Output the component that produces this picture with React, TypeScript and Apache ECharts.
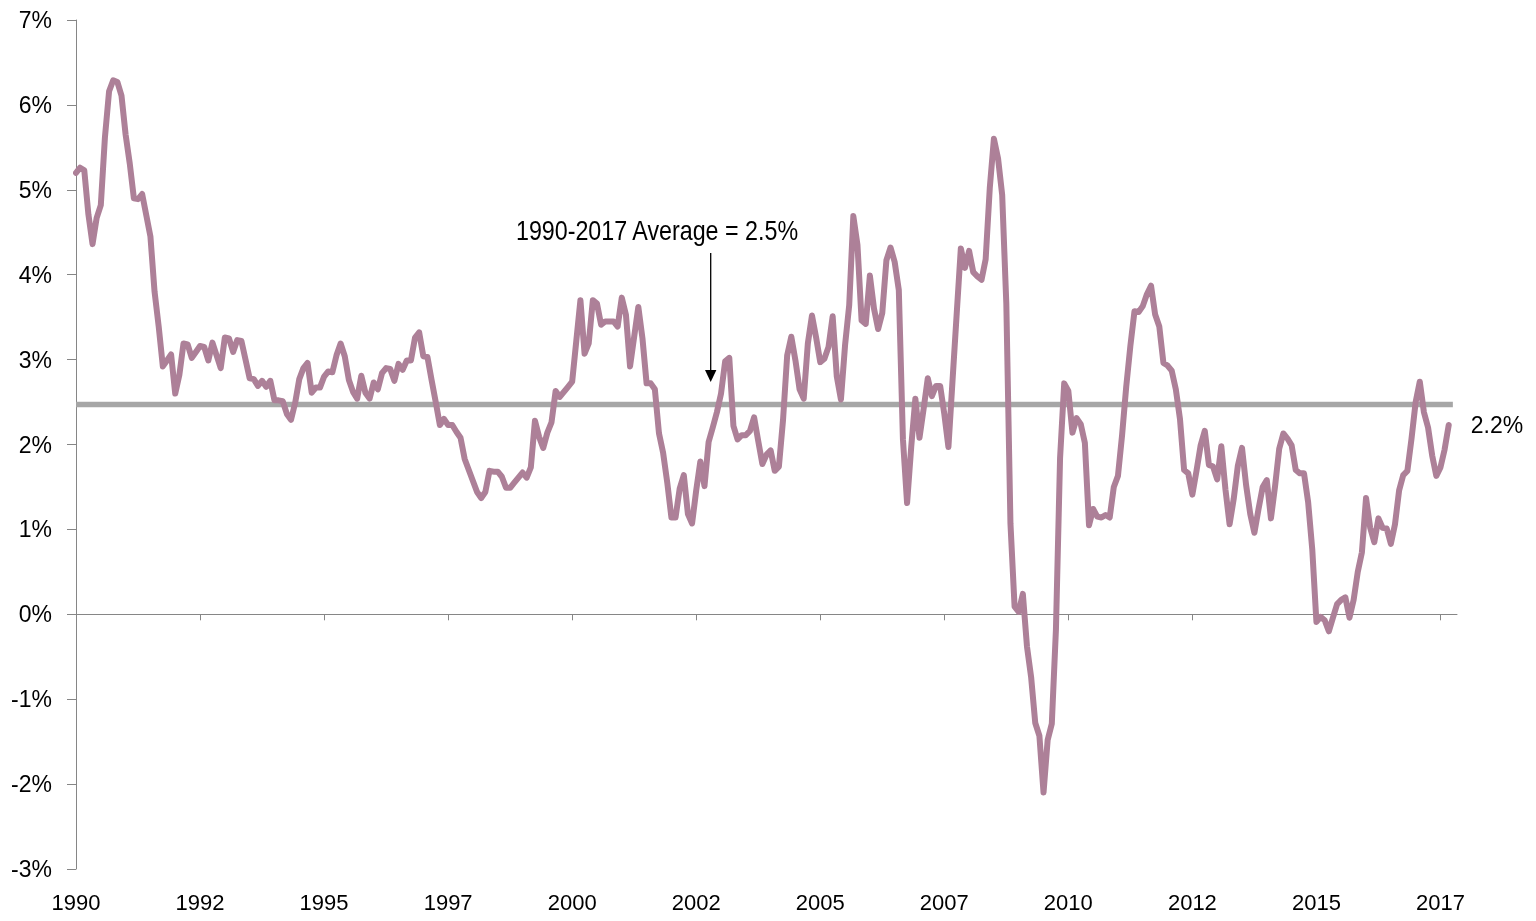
import React, { useEffect, useRef } from "react";
import * as echarts from "echarts";

// CPI year-over-year inflation, monthly, Jan 1990 – Sep 2017 (%)
const cpi1990 = [5.2, 5.26, 5.23, 4.71, 4.36, 4.67, 4.82, 5.62, 6.16, 6.29, 6.27, 6.11];
const cpi1991 = [5.65, 5.31, 4.9, 4.89, 4.95, 4.7, 4.45, 3.8, 3.39, 2.92, 2.99, 3.06];
const cpi1992 = [2.6, 2.82, 3.19, 3.18, 3.02, 3.09, 3.16, 3.15, 2.99, 3.2, 3.05, 2.9];
const cpi1993 = [3.26, 3.25, 3.09, 3.23, 3.22, 3.0, 2.78, 2.77, 2.69, 2.75, 2.68, 2.75];
const cpi1994 = [2.52, 2.52, 2.51, 2.36, 2.29, 2.49, 2.77, 2.9, 2.96, 2.61, 2.67, 2.67];
const cpi1995 = [2.8, 2.86, 2.85, 3.05, 3.19, 3.04, 2.76, 2.62, 2.54, 2.81, 2.61, 2.54];
const cpi1996 = [2.73, 2.65, 2.84, 2.9, 2.89, 2.75, 2.95, 2.88, 2.99, 2.99, 3.26, 3.32];
const cpi1997 = [3.04, 3.03, 2.76, 2.5, 2.23, 2.3, 2.23, 2.23, 2.15, 2.08, 1.83, 1.7];
const cpi1998 = [1.57, 1.44, 1.37, 1.44, 1.69, 1.68, 1.68, 1.62, 1.49, 1.49, 1.55, 1.61];
const cpi1999 = [1.67, 1.61, 1.73, 2.28, 2.09, 1.96, 2.14, 2.26, 2.63, 2.56, 2.62, 2.68];
const cpi2000 = [2.74, 3.22, 3.7, 3.07, 3.19, 3.7, 3.66, 3.41, 3.45, 3.45, 3.45, 3.39];
const cpi2001 = [3.73, 3.53, 2.92, 3.27, 3.62, 3.25, 2.72, 2.72, 2.65, 2.13, 1.9, 1.55];
const cpi2002 = [1.14, 1.14, 1.48, 1.64, 1.18, 1.07, 1.46, 1.8, 1.51, 2.03, 2.2, 2.38];
const cpi2003 = [2.6, 2.98, 3.02, 2.22, 2.06, 2.11, 2.11, 2.16, 2.32, 2.04, 1.77, 1.88];
const cpi2004 = [1.93, 1.69, 1.74, 2.29, 3.05, 3.27, 2.99, 2.65, 2.54, 3.19, 3.52, 3.26];
const cpi2005 = [2.97, 3.01, 3.15, 3.51, 2.8, 2.53, 3.17, 3.64, 4.69, 4.35, 3.46, 3.42];
const cpi2006 = [3.99, 3.6, 3.36, 3.55, 4.17, 4.32, 4.15, 3.82, 2.06, 1.31, 1.97, 2.54];
const cpi2007 = [2.08, 2.42, 2.78, 2.57, 2.69, 2.69, 2.36, 1.97, 2.76, 3.54, 4.31, 4.08];
const cpi2008 = [4.28, 4.03, 3.98, 3.94, 4.18, 5.02, 5.6, 5.37, 4.94, 3.66, 1.07, 0.09];
const cpi2009 = [0.03, 0.24, -0.38, -0.74, -1.28, -1.43, -2.1, -1.48, -1.29, -0.18, 1.84, 2.72];
const cpi2010 = [2.63, 2.14, 2.31, 2.24, 2.02, 1.05, 1.24, 1.15, 1.14, 1.17, 1.14, 1.5];
const cpi2011 = [1.63, 2.11, 2.68, 3.16, 3.57, 3.56, 3.63, 3.77, 3.87, 3.53, 3.39, 2.96];
const cpi2012 = [2.93, 2.87, 2.65, 2.3, 1.7, 1.66, 1.41, 1.69, 1.99, 2.16, 1.76, 1.74];
const cpi2013 = [1.59, 1.98, 1.47, 1.06, 1.36, 1.75, 1.96, 1.52, 1.18, 0.96, 1.24, 1.5];
const cpi2014 = [1.58, 1.13, 1.51, 1.95, 2.13, 2.07, 1.99, 1.7, 1.66, 1.66, 1.32, 0.76];
const cpi2015 = [-0.09, -0.03, -0.07, -0.2, -0.04, 0.12, 0.17, 0.2, -0.04, 0.17, 0.5, 0.73];
const cpi2016 = [1.37, 1.02, 0.85, 1.13, 1.02, 1.01, 0.83, 1.06, 1.46, 1.64, 1.69, 2.07];
const cpi2017 = [2.5, 2.74, 2.38, 2.2, 1.87, 1.63, 1.73, 1.94, 2.23];

const averageInflation = 2.47;
const annotationText = "1990-2017 Average = 2.5%";

// x-axis labels, one every 30 months starting Jan 1990
const xLabelYears = ["1990", "1992", "1995", "1997", "2000", "2002", "2005", "2007", "2010", "2012", "2015", "2017"];
const labelStepMonths = 30;
const axisEndMonth = 334;

// y-axis
const yMin = -3;
const yMax = 7;
const yStep = 1;

const FONT = "'Liberation Sans Narrow', 'Arial Narrow', 'Liberation Sans', Arial, sans-serif";
const AXIS_COLOR = "#868686";
const LINE_COLOR = "#ad8098";
const AVG_COLOR = "#a6a6a6";

export default function App() {
  const ref = useRef<HTMLDivElement>(null);

  useEffect(() => {
    if (!ref.current) return;
    const chart = echarts.init(ref.current, undefined, { renderer: "svg" });

    const values = [
      ...cpi1990, ...cpi1991, ...cpi1992, ...cpi1993, ...cpi1994, ...cpi1995, ...cpi1996,
      ...cpi1997, ...cpi1998, ...cpi1999, ...cpi2000, ...cpi2001, ...cpi2002, ...cpi2003,
      ...cpi2004, ...cpi2005, ...cpi2006, ...cpi2007, ...cpi2008, ...cpi2009, ...cpi2010,
      ...cpi2011, ...cpi2012, ...cpi2013, ...cpi2014, ...cpi2015, ...cpi2016, ...cpi2017,
    ];
    const seriesData = values.map((v, i) => [i, v]);
    const avgData = [
      [0, averageInflation],
      [values.length, averageInflation],
    ];
    const labelMonths = xLabelYears.map((_, k) => k * labelStepMonths);

    chart.setOption({
      animation: false,
      grid: {
        left: 76,
        right: 79,
        top: 20,
        bottom: 52,
        containLabel: false,
        outerBoundsMode: "none",
      },
      xAxis: [
        {
          type: "value",
          min: 0,
          max: axisEndMonth,
          axisLine: { show: true, onZero: true, lineStyle: { color: AXIS_COLOR, width: 1 } },
          axisTick: {
            show: true,
            length: 6,
            customValues: labelMonths,
            lineStyle: { color: AXIS_COLOR, width: 1 },
          },
          axisLabel: { show: false },
          splitLine: { show: false },
        },
        {
          type: "value",
          position: "bottom",
          min: 0,
          max: axisEndMonth,
          axisLine: { show: false, onZero: false },
          axisTick: { show: false },
          splitLine: { show: false },
          axisLabel: {
            show: true,
            customValues: labelMonths,
            margin: 22,
            color: "#000",
            fontSize: 22,
            fontFamily: FONT,
            formatter: (v: number) => {
              const k = Math.round(v / labelStepMonths);
              return Math.abs(v - k * labelStepMonths) < 0.01 && xLabelYears[k] ? xLabelYears[k] : "";
            },
          },
        },
      ],
      yAxis: {
        type: "value",
        min: yMin,
        max: yMax,
        interval: yStep,
        axisLine: { show: true, lineStyle: { color: AXIS_COLOR, width: 1 } },
        axisTick: { show: true, length: 9, lineStyle: { color: AXIS_COLOR, width: 1 } },
        splitLine: { show: false },
        axisLabel: {
          margin: 24,
          color: "#000",
          fontSize: 23,
          fontFamily: FONT,
          formatter: (v: number) => `${v}%`,
        },
      },
      series: [
        {
          type: "line",
          xAxisIndex: 0,
          data: avgData,
          symbol: "none",
          silent: true,
          lineStyle: { color: AVG_COLOR, width: 5.5, cap: "butt" },
          z: 2,
        },
        {
          type: "line",
          xAxisIndex: 0,
          data: seriesData,
          symbol: "none",
          silent: true,
          lineStyle: { color: LINE_COLOR, width: 6, cap: "round", join: "round" },
          z: 3,
          endLabel: {
            show: true,
            distance: 22,
            color: "#000",
            fontSize: 23,
            fontFamily: FONT,
            formatter: (p: any) => `${Number(p.value[1]).toFixed(1)}%`,
          },
        },
      ],
      graphic: [
        {
          type: "text",
          x: 657,
          y: 230,
          scaleX: 0.862,
          style: {
            text: annotationText,
            fill: "#000",
            fontSize: 27,
            fontFamily: FONT,
            align: "center",
            verticalAlign: "middle",
          },
          z: 10,
        },
        {
          type: "line",
          shape: { x1: 710.7, y1: 253, x2: 710.7, y2: 372 },
          style: { stroke: "#000", lineWidth: 1.3 },
          z: 10,
        },
        {
          type: "polygon",
          shape: {
            points: [
              [705, 370],
              [716.4, 370],
              [710.7, 382],
            ],
          },
          style: { fill: "#000" },
          z: 10,
        },
      ],
    });

    return () => chart.dispose();
  }, []);

  return (
    <div
      ref={ref}
      style={{ position: "fixed", left: 0, top: 0, width: 1536, height: 921 }}
    />
  );
}
